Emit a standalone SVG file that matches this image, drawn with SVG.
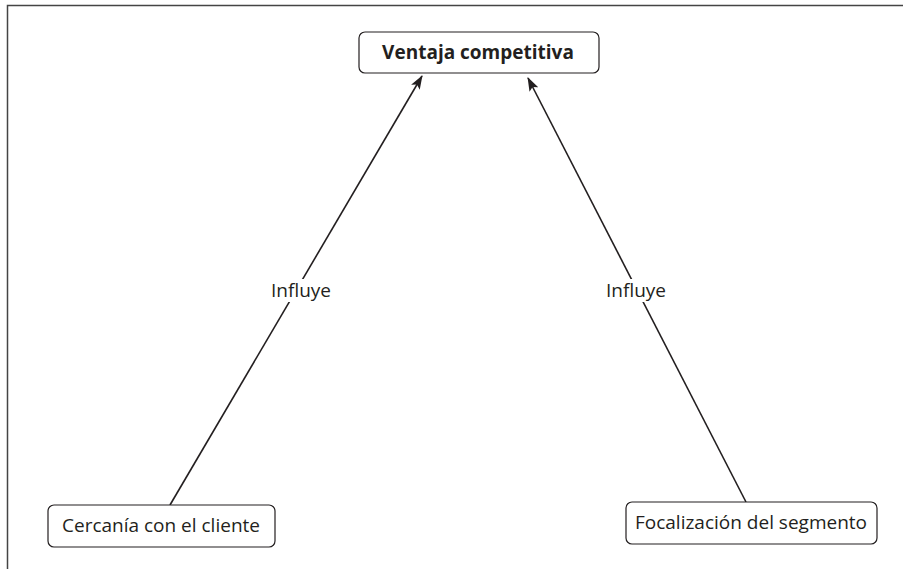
<svg xmlns="http://www.w3.org/2000/svg" width="903" height="569" viewBox="0 0 903 569">
<defs>
<style>
.box{fill:#fff;stroke:#231f20;stroke-width:1.2}
.t{font-family:"Open Sans","Liberation Sans",sans-serif;font-size:19px;fill:#231f20;text-anchor:middle}
.b{font-weight:bold;font-size:19px}
.edge{stroke:#231f20;stroke-width:1.6;fill:none}
.lbl{fill:#fff}
</style>
<marker id="ah" viewBox="0 0 14 10" refX="13" refY="5" markerWidth="14" markerHeight="10" markerUnits="userSpaceOnUse" orient="auto">
<path d="M0,0 L14,5 L0,10 L3,5 Z" fill="#231f20"/>
</marker>
</defs>
<rect width="903" height="569" fill="#fff"/>
<g id="frame"><path d="M7.5,569 V5.5 H903" fill="none" stroke="#444" stroke-width="1.5"/></g>
<g id="connectors">
<g id="e1"><line class="edge" x1="170" y1="505" x2="422" y2="76" marker-end="url(#ah)"/>
<rect class="lbl" x="267" y="279" width="68" height="23"/>
<text class="t" x="301" y="297">Influye</text></g>
<g id="e2"><line class="edge" x1="746" y1="502" x2="528" y2="78" marker-end="url(#ah)"/>
<rect class="lbl" x="602" y="279" width="68" height="23"/>
<text class="t" x="636" y="297">Influye</text></g>
</g>
<g id="n1"><rect class="box" x="359" y="32" width="240" height="41" rx="6"/>
<text class="t b" x="478" y="59">Ventaja competitiva</text></g>
<g id="n2"><rect class="box" x="48" y="505" width="227" height="42" rx="6"/>
<text class="t" x="161" y="532">Cercanía con el cliente</text></g>
<g id="n3"><rect class="box" x="626" y="502" width="251" height="42" rx="6"/>
<text class="t" x="751" y="529">Focalización del segmento</text></g>
</svg>
